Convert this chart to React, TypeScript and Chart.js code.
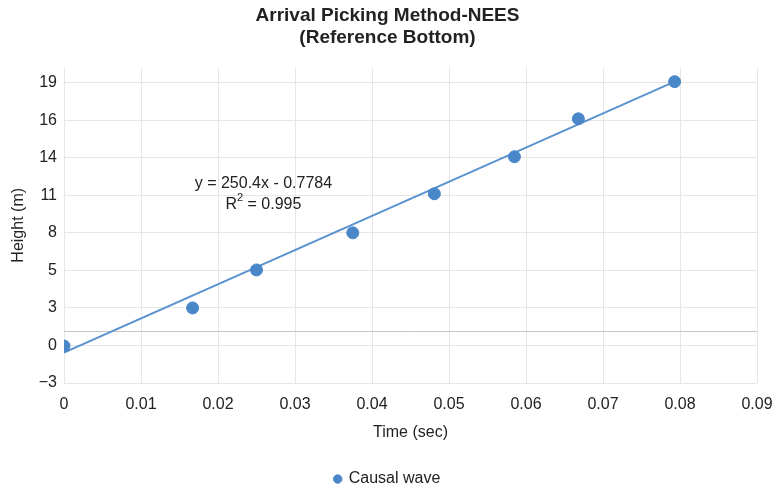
import React, { useEffect, useRef } from "react";
import { Chart, registerables } from "chart.js";

Chart.register(...registerables);

// Observed arrival picks
const times = [0, 0.0167, 0.025, 0.0375, 0.0481, 0.0585, 0.0668, 0.0793];
const heights = [-0.29, 2.5, 5.28, 8.0, 10.86, 13.57, 16.35, 19.07];

// Linear fit as stated in the annotation
const fitSlope = 250.4;
const fitIntercept = -0.7784;
const fitRange = [0, 0.0793];
const fitLabel = "y = 250.4x - 0.7784";
const r2Value = "0.995";

// Axis ticks
const xTicks = [0, 0.01, 0.02, 0.03, 0.04, 0.05, 0.06, 0.07, 0.08, 0.09];
const xTickLabels = ["0", "0.01", "0.02", "0.03", "0.04", "0.05", "0.06", "0.07", "0.08", "0.09"];
const yTicks = [-3, -0.25, 2.5, 5.25, 8, 10.75, 13.5, 16.25, 19];
const yTickLabels = ["\u22123", "0", "3", "5", "8", "11", "14", "16", "19"];
const refLevel = 0.8;

const FONT = "'Liberation Sans', Arial, Helvetica, sans-serif";
const BLUE = "#4a87c9";
const LINE_BLUE = "#5b92cf";

const overlayPlugin = {
  id: "fitOverlay",
  beforeDatasetsDraw(chart: any) {
    const { ctx, chartArea, scales } = chart;
    const y = scales.y.getPixelForValue(refLevel);
    ctx.save();
    ctx.strokeStyle = "#c4c4c4";
    ctx.lineWidth = 1;
    ctx.beginPath();
    ctx.moveTo(chartArea.left, Math.round(y) + 0.5);
    ctx.lineTo(chartArea.right, Math.round(y) + 0.5);
    ctx.stroke();
    ctx.restore();
  },
  afterDatasetsDraw(chart: any) {
    const { ctx, scales } = chart;
    const cx = scales.x.getPixelForValue(0.0259);
    const y1 = scales.y.getPixelForValue(11.6);
    const y2 = scales.y.getPixelForValue(10.1);
    ctx.save();
    ctx.fillStyle = "#222";
    ctx.textBaseline = "middle";
    ctx.font = `16px ${FONT}`;
    ctx.textAlign = "center";
    ctx.fillText(fitLabel, cx, y1);
    // R² line with a raised 2
    const a = "R";
    const b = " = " + r2Value;
    ctx.font = `16px ${FONT}`;
    const wa = ctx.measureText(a).width;
    const wb = ctx.measureText(b).width;
    ctx.font = `11px ${FONT}`;
    const ws = ctx.measureText("2").width;
    const total = wa + ws + wb;
    let x = cx - total / 2;
    ctx.textAlign = "left";
    ctx.font = `16px ${FONT}`;
    ctx.fillText(a, x, y2);
    x += wa;
    ctx.font = `11px ${FONT}`;
    ctx.fillText("2", x, y2 - 6);
    x += ws;
    ctx.font = `16px ${FONT}`;
    ctx.fillText(b, x, y2);
    ctx.restore();
  },
};

export default function App() {
  const canvasRef = useRef<HTMLCanvasElement | null>(null);

  useEffect(() => {
    document.body.style.margin = "0";
    const canvas = canvasRef.current;
    if (!canvas) return;

    const points = times.map((t, i) => ({ x: t, y: heights[i] }));
    const fitPoints = fitRange.map((t) => ({ x: t, y: fitSlope * t + fitIntercept }));

    const chart = new Chart(canvas, {
      type: "scatter",
      data: {
        datasets: [
          {
            label: "Causal wave",
            data: points,
            backgroundColor: BLUE,
            borderColor: BLUE,
            pointRadius: 6,
            pointHoverRadius: 6,
            order: 0,
          },
          {
            label: "fit",
            type: "line",
            data: fitPoints,
            borderColor: LINE_BLUE,
            borderWidth: 2,
            pointRadius: 0,
            fill: false,
            order: 1,
          } as any,
        ],
      },
      options: {
        animation: false,
        responsive: false,
        maintainAspectRatio: false,
        layout: { padding: { left: 0, right: 0, top: 0, bottom: -6 } },
        plugins: {
          title: {
            display: true,
            text: ["Arrival Picking Method-NEES", "(Reference Bottom)"],
            color: "#222",
            font: { family: FONT, size: 19, weight: "bold", lineHeight: 1.2 },
            padding: { top: 4, bottom: 18 },
          },
          legend: {
            display: true,
            position: "bottom",
            labels: {
              filter: (item: any) => item.datasetIndex === 0,
              usePointStyle: true,
              pointStyle: "circle",
              boxWidth: 6,
              boxHeight: 6,
              color: "#222",
              font: { family: FONT, size: 16 },
              padding: 26,
            },
          },
          tooltip: { enabled: false },
        },
        scales: {
          x: {
            type: "linear",
            min: 0,
            max: 0.09,
            afterBuildTicks: (scale: any) => {
              scale.ticks = xTicks.map((v) => ({ value: v }));
            },
            afterFit: (scale: any) => {
              scale.height = 62;
              scale.paddingRight = 18;
            },
            ticks: {
              color: "#222",
              font: { family: FONT, size: 16 },
              padding: 12,
              maxRotation: 0,
              callback: (_v: any, i: number) => xTickLabels[i],
            },
            grid: { color: "#e6e6e6", drawTicks: false },
            border: { display: false },
            title: {
              display: true,
              text: "Time (sec)",
              color: "#222",
              font: { family: FONT, size: 16 },
              padding: { top: 0, bottom: 3 },
            },
          },
          y: {
            type: "linear",
            min: -3,
            max: 20.1,
            afterBuildTicks: (scale: any) => {
              scale.ticks = yTicks.map((v) => ({ value: v }));
            },
            afterFit: (scale: any) => {
              scale.width = 64;
            },
            ticks: {
              color: "#222",
              font: { family: FONT, size: 16 },
              padding: 7,
              callback: (_v: any, i: number) => yTickLabels[i],
            },
            grid: { color: "#e6e6e6", drawTicks: false },
            border: { display: false },
            title: {
              display: true,
              text: "Height (m)",
              color: "#222",
              font: { family: FONT, size: 16 },
              padding: { top: 9, bottom: 0 },
            },
          },
        },
      },
      plugins: [overlayPlugin],
    });

    return () => chart.destroy();
  }, []);

  return (
    <div style={{ position: "relative", width: 775, height: 491 }}>
      <canvas ref={canvasRef} width={775} height={491} style={{ display: "block" }} />
    </div>
  );
}
